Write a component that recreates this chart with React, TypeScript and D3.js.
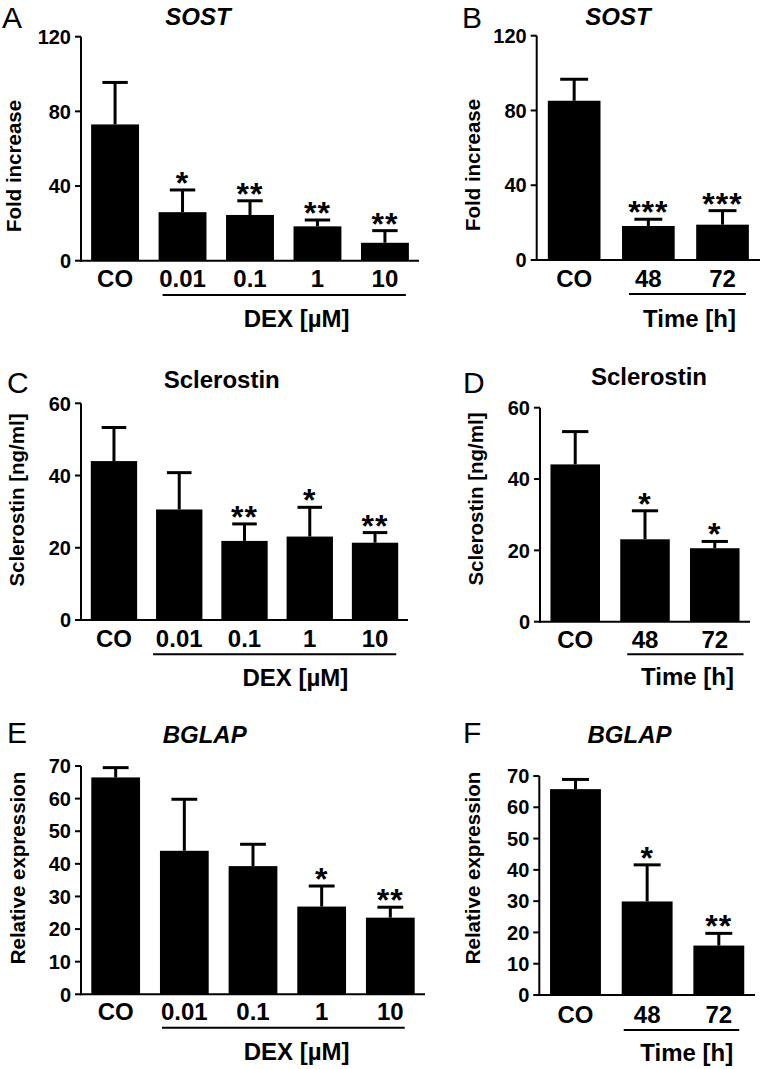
import React from "react";
import * as d3 from "d3";

// ---------- DATA ----------
const doseCategories = ["CO", "0.01", "0.1", "1", "10"];
const timeCategories = ["CO", "48", "72"];

const sostDoseMean = [73.0, 26.0, 24.5, 18.4, 9.6];
const sostDoseErr = [22.5, 11.9, 7.6, 3.4, 6.5];
const sostDoseSig = ["", "*", "**", "**", "**"];

const sostTimeMean = [85.2, 18.2, 18.9];
const sostTimeErr = [11.5, 3.6, 7.5];
const sostTimeSig = ["", "***", "***"];

const sclDoseMean = [44.0, 30.6, 21.9, 23.1, 21.4];
const sclDoseErr = [9.3, 10.2, 4.7, 8.1, 2.8];
const sclDoseSig = ["", "", "**", "*", "**"];

const sclTimeMean = [44.1, 23.1, 20.6];
const sclTimeErr = [9.2, 8.0, 1.9];
const sclTimeSig = ["", "*", "*"];

const bglapDoseMean = [66.5, 44.0, 39.3, 26.9, 23.5];
const bglapDoseErr = [3.0, 15.8, 6.7, 6.3, 3.2];
const bglapDoseSig = ["", "", "", "*", "**"];

const bglapTimeMean = [65.8, 29.9, 15.8];
const bglapTimeErr = [3.1, 11.7, 3.9];
const bglapTimeSig = ["", "*", "**"];

const sostTicks = [0, 40, 80, 120];
const sclTicks = [0, 20, 40, 60];
const bglapTicks = [0, 10, 20, 30, 40, 50, 60, 70];

const doseGroupLabel = "DEX [µM]";
const timeGroupLabel = "Time [h]";

// ---------- LAYOUT ----------
const FONT = "'Liberation Sans', Arial, Helvetica, sans-serif";

type PanelDef = {
  letter: string;
  title: string;
  italic: boolean;
  yLabel: string;
  cats: string[];
  mean: number[];
  err: number[];
  sig: string[];
  ticks: number[];
  group: string;
  x0: number;
  x1: number;
  yBottom: number;
  yTop: number;
  letterPos: [number, number];
  titlePos: [number, number];
  yLabelPos: [number, number];
  xLabelBase: number;
  lineY: number;
  lineInset: [number, number];
  groupPos: [number, number];
};

const panels: PanelDef[] = [
  {
    letter: "A", title: "SOST", italic: true, yLabel: "Fold increase",
    cats: doseCategories, mean: sostDoseMean, err: sostDoseErr, sig: sostDoseSig,
    ticks: sostTicks, group: doseGroupLabel,
    x0: 81, x1: 419, yBottom: 260.7, yTop: 36.7,
    letterPos: [2, 28], titlePos: [198, 25], yLabelPos: [14, 166],
    xLabelBase: 287, lineY: 295, lineInset: [4, 3], groupPos: [296.7, 326.7],
  },
  {
    letter: "B", title: "SOST", italic: true, yLabel: "Fold increase",
    cats: timeCategories, mean: sostTimeMean, err: sostTimeErr, sig: sostTimeSig,
    ticks: sostTicks, group: timeGroupLabel,
    x0: 536.7, x1: 760, yBottom: 260, yTop: 35.7,
    letterPos: [462, 28], titlePos: [618, 25], yLabelPos: [473, 165],
    xLabelBase: 286.7, lineY: 294, lineInset: [7, 3], groupPos: [689.5, 326.7],
  },
  {
    letter: "C", title: "Sclerostin", italic: false, yLabel: "Sclerostin [ng/ml]",
    cats: doseCategories, mean: sclDoseMean, err: sclDoseErr, sig: sclDoseSig,
    ticks: sclTicks, group: doseGroupLabel,
    x0: 81, x1: 408, yBottom: 620, yTop: 403.3,
    letterPos: [7, 393], titlePos: [221.7, 388], yLabelPos: [17, 500],
    xLabelBase: 646.7, lineY: 654.3, lineInset: [-3, 2], groupPos: [295.3, 685.7],
  },
  {
    letter: "D", title: "Sclerostin", italic: false, yLabel: "Sclerostin [ng/ml]",
    cats: timeCategories, mean: sclTimeMean, err: sclTimeErr, sig: sclTimeSig,
    ticks: sclTicks, group: timeGroupLabel,
    x0: 540, x1: 750, yBottom: 621.7, yTop: 407.7,
    letterPos: [463, 393], titlePos: [649, 385], yLabelPos: [476, 499],
    xLabelBase: 648, lineY: 654.3, lineInset: [7, -4], groupPos: [687.5, 685],
  },
  {
    letter: "E", title: "BGLAP", italic: true, yLabel: "Relative expression",
    cats: doseCategories, mean: bglapDoseMean, err: bglapDoseErr, sig: bglapDoseSig,
    ticks: bglapTicks, group: doseGroupLabel,
    x0: 81, x1: 425, yBottom: 994.3, yTop: 766,
    letterPos: [7, 743], titlePos: [204.7, 743.3], yLabelPos: [18, 868],
    xLabelBase: 1020, lineY: 1027.7, lineInset: [2, 10], groupPos: [296.7, 1059.5],
  },
  {
    letter: "F", title: "BGLAP", italic: true, yLabel: "Relative expression",
    cats: timeCategories, mean: bglapTimeMean, err: bglapTimeErr, sig: bglapTimeSig,
    ticks: bglapTicks, group: timeGroupLabel,
    x0: 539.3, x1: 755, yBottom: 995, yTop: 776,
    letterPos: [463, 743], titlePos: [629.5, 743], yLabelPos: [472.5, 868],
    xLabelBase: 1023, lineY: 1030, lineInset: [2, 5], groupPos: [686.7, 1061],
  },
];

function Panel({ p }: { p: PanelDef }) {
  const x = d3
    .scaleBand<string>()
    .domain(p.cats)
    .range([p.x0, p.x1])
    .paddingInner(0.29)
    .paddingOuter(0.15);
  const y = d3
    .scaleLinear()
    .domain([0, p.ticks[p.ticks.length - 1]])
    .range([p.yBottom, p.yTop]);
  const bw = x.bandwidth();
  const capW = bw * 0.53;
  const first = p.cats[1];
  const last = p.cats[p.cats.length - 1];
  const lineX0 = (x(first) as number) + p.lineInset[0];
  const lineX1 = (x(last) as number) + bw - p.lineInset[1];

  return (
    <g fontFamily={FONT}>
      <text x={p.letterPos[0]} y={p.letterPos[1]} fontSize={30} fontWeight={400}>
        {p.letter}
      </text>
      <text
        x={p.titlePos[0]}
        y={p.titlePos[1]}
        fontSize={24}
        fontWeight={700}
        fontStyle={p.italic ? "italic" : "normal"}
        textAnchor="middle"
      >
        {p.title}
      </text>
      <text
        transform={`translate(${p.yLabelPos[0]},${p.yLabelPos[1]}) rotate(-90)`}
        fontSize={20.5}
        fontWeight={700}
        textAnchor="middle"
        dy="0.36em"
      >
        {p.yLabel}
      </text>

      {p.cats.map((c, i) => (
        <rect
          key={"b" + c}
          x={x(c)}
          y={y(p.mean[i])}
          width={bw}
          height={y(0) - y(p.mean[i])}
          fill="#000"
        />
      ))}
      {p.cats.map((c, i) => {
        const cx = (x(c) as number) + bw / 2;
        const top = y(p.mean[i] + p.err[i]);
        return (
          <g key={"e" + c} stroke="#000" strokeWidth={3}>
            <line x1={cx} x2={cx} y1={y(p.mean[i])} y2={top} />
            <line x1={cx - capW / 2} x2={cx + capW / 2} y1={top} y2={top} />
          </g>
        );
      })}
      {p.cats.map((c, i) =>
        p.sig[i] ? (
          <text
            key={"s" + c}
            x={(x(c) as number) + bw / 2}
            y={y(p.mean[i] + p.err[i]) + 4}
            fontSize={32}
            fontWeight={700}
            textAnchor="middle"
            letterSpacing={1}
          >
            {p.sig[i]}
          </text>
        ) : null
      )}

      <line x1={p.x0} x2={p.x0} y1={y(0) + 1} y2={y(p.ticks[p.ticks.length - 1])} stroke="#000" strokeWidth={2} />
      {p.ticks.map((t) => (
        <g key={"t" + t}>
          <line x1={p.x0 - 6} x2={p.x0} y1={y(t)} y2={y(t)} stroke="#000" strokeWidth={2} />
          <text x={p.x0 - 10} y={y(t)} dy="0.36em" fontSize={20} fontWeight={700} textAnchor="end">
            {t}
          </text>
        </g>
      ))}
      <line x1={p.x0} x2={p.x1} y1={y(0)} y2={y(0)} stroke="#000" strokeWidth={2} />
      {p.cats.map((c) => (
        <text
          key={"x" + c}
          x={(x(c) as number) + bw / 2}
          y={p.xLabelBase}
          fontSize={24}
          fontWeight={700}
          textAnchor="middle"
        >
          {c}
        </text>
      ))}
      <line x1={lineX0} x2={lineX1} y1={p.lineY} y2={p.lineY} stroke="#000" strokeWidth={2} />
      <text x={p.groupPos[0]} y={p.groupPos[1]} fontSize={24} fontWeight={700} textAnchor="middle">
        {p.group}
      </text>
    </g>
  );
}

export default function App() {
  return (
    <svg
      width={762}
      height={1069}
      viewBox="0 0 762 1069"
      style={{ position: "absolute", left: 0, top: 0, background: "#fff" }}
    >
      <rect width={762} height={1069} fill="#fff" />
      {panels.map((p) => (
        <Panel key={p.letter} p={p} />
      ))}
    </svg>
  );
}
